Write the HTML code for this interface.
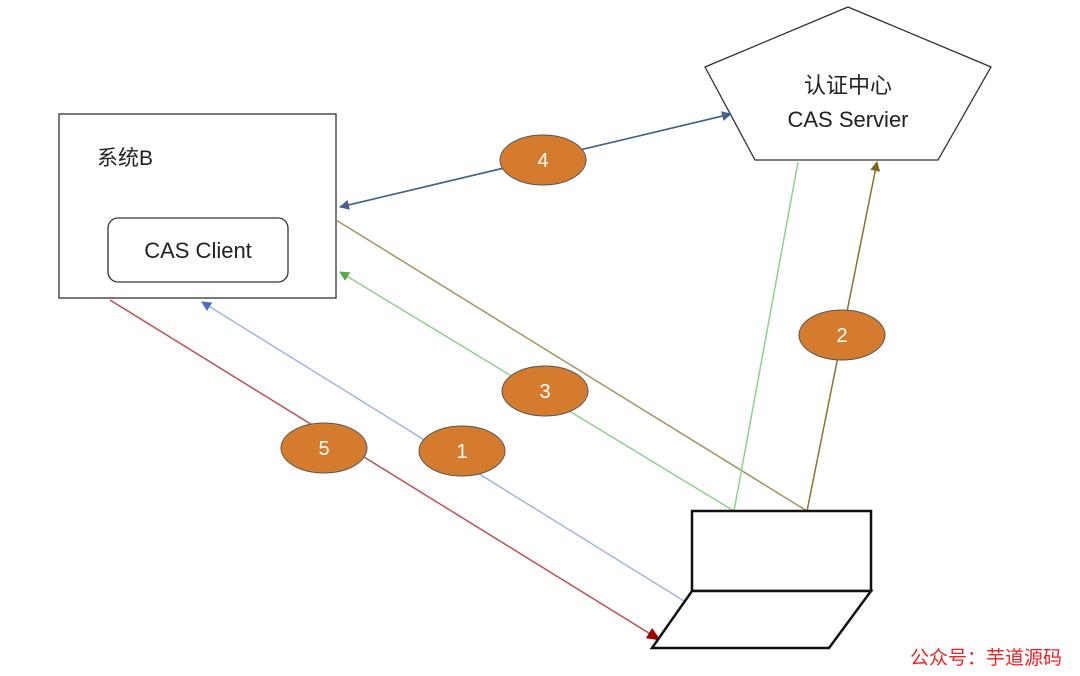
<!DOCTYPE html>
<html><head><meta charset="utf-8"><style>
html,body{margin:0;padding:0;background:#fff;}
svg{display:block;}
text{font-family:"Liberation Sans","Noto Sans CJK SC",sans-serif;}
</style></head><body>
<svg width="1080" height="676" viewBox="0 0 1080 676" xmlns="http://www.w3.org/2000/svg">
<defs>
<marker id="aBlue" markerWidth="10" markerHeight="10" refX="9" refY="5" orient="auto" markerUnits="userSpaceOnUse"><path d="M0,0 L10,5 L0,10 z" fill="#44608e"/></marker>
<marker id="aGreen" markerWidth="10" markerHeight="10" refX="9" refY="5" orient="auto" markerUnits="userSpaceOnUse"><path d="M0,0 L10,5 L0,10 z" fill="#5aaa4a"/></marker>
<marker id="aOlive" markerWidth="10" markerHeight="10" refX="9" refY="5" orient="auto" markerUnits="userSpaceOnUse"><path d="M0,0 L10,5 L0,10 z" fill="#7a6420"/></marker>
<marker id="aLB" markerWidth="10" markerHeight="10" refX="9" refY="5" orient="auto" markerUnits="userSpaceOnUse"><path d="M0,0 L10,5 L0,10 z" fill="#4a6bc4"/></marker>
<marker id="aRed" markerWidth="14" markerHeight="12" refX="13" refY="6" orient="auto" markerUnits="userSpaceOnUse"><path d="M0,0 L14,6 L0,12 z" fill="#a00000"/></marker>
</defs>
<rect x="59" y="114" width="277" height="184" fill="#fff" stroke="#333" stroke-width="1.3"/>
<text x="97" y="165" font-size="21" fill="#222">系统B</text>
<rect x="108" y="218" width="180" height="64" rx="10" fill="#fff" stroke="#333" stroke-width="1.3"/>
<text x="198" y="258" font-size="22" fill="#222" text-anchor="middle">CAS Client</text>
<polygon points="848,7 991,67 938,160 755,160 705,67" fill="#fff" stroke="#333" stroke-width="1.3"/>
<text x="848" y="93" font-size="22" fill="#222" text-anchor="middle">认证中心</text>
<text x="848" y="127" font-size="22" fill="#222" text-anchor="middle">CAS Servier</text>
<line x1="340" y1="207" x2="731" y2="114" stroke="#44608e" stroke-width="1.5" marker-end="url(#aBlue)"/>
<line x1="731" y1="114" x2="340" y2="207" stroke="#44608e" stroke-width="1.5" marker-end="url(#aBlue)"/>
<line x1="336" y1="220" x2="807" y2="511" stroke="#a89360" stroke-width="1.5"/>
<line x1="734" y1="511" x2="340" y2="272" stroke="#8fd18f" stroke-width="1.5" marker-end="url(#aGreen)"/>
<line x1="734" y1="511" x2="798" y2="162" stroke="#8fd18f" stroke-width="1.5"/>
<line x1="807" y1="511" x2="877" y2="162" stroke="#8a7430" stroke-width="1.5" marker-end="url(#aOlive)"/>
<line x1="684" y1="601" x2="202" y2="302" stroke="#a3b4e8" stroke-width="1.5" marker-end="url(#aLB)"/>
<line x1="110" y1="300" x2="660" y2="640" stroke="#c0504d" stroke-width="1.5" marker-end="url(#aRed)"/>
<rect x="692" y="511" width="179" height="80" fill="#fff" stroke="#111" stroke-width="2.5"/>
<polygon points="692,591 871,591 829,648 652,648" fill="#fff" stroke="#111" stroke-width="2.5"/>
<g fill="#d57b2e" stroke="#555" stroke-width="1">
<ellipse cx="543" cy="160" rx="43" ry="25"/>
<ellipse cx="842" cy="335" rx="43" ry="25"/>
<ellipse cx="545" cy="391" rx="43" ry="25"/>
<ellipse cx="462" cy="451" rx="43" ry="25"/>
<ellipse cx="324" cy="448" rx="43" ry="25"/>
</g>
<g fill="#fff" font-size="20" text-anchor="middle">
<text x="543" y="167">4</text>
<text x="842" y="342">2</text>
<text x="545" y="398">3</text>
<text x="462" y="458">1</text>
<text x="324" y="455">5</text>
</g>
<text x="910" y="664" font-size="19" fill="#ee2222" font-family="'Noto Serif CJK SC',serif">公众号：芋道源码</text>
</svg>
</body></html>
